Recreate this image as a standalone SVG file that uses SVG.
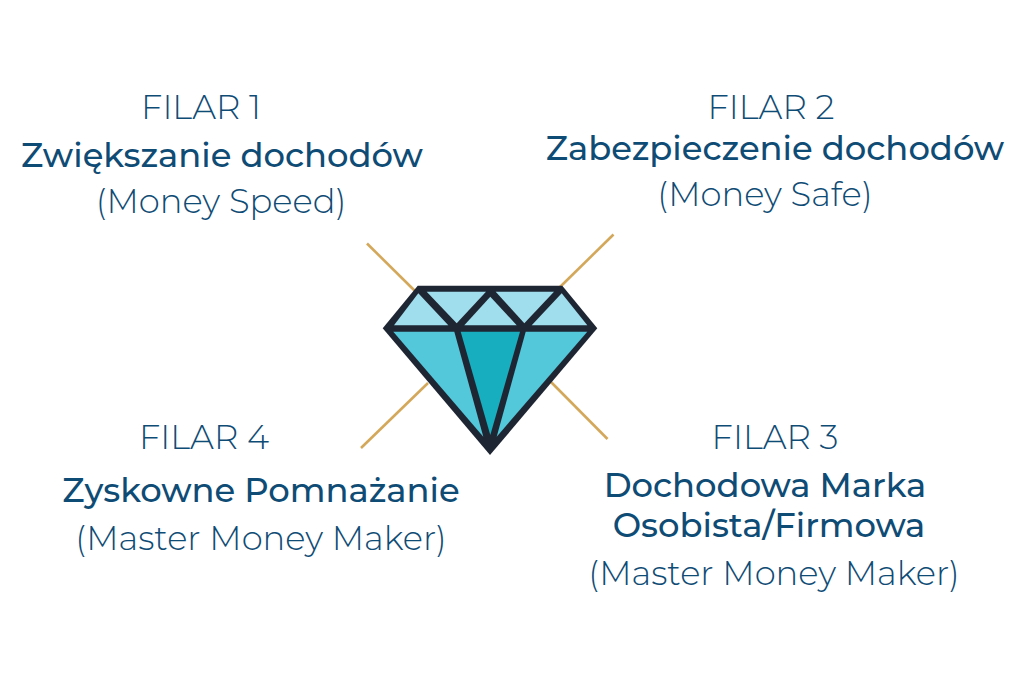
<svg xmlns="http://www.w3.org/2000/svg" width="1024" height="691" viewBox="0 0 1024 691">
<style>
text{font-family:"Montserrat","Inter","Noto Sans",sans-serif;text-anchor:middle;fill:#0f4c75;font-size:33.8px}
.l{font-weight:300}
.b{font-weight:500}
.c{stroke:#d4a85a;stroke-width:2.6;fill:none}
.t{fill:#a0deed}
.s{fill:#52c8da}
</style>
<rect width="1024" height="691" fill="#fff"/>
<g id="connectors">
<line class="c" x1="367" y1="243.500" x2="416" y2="292"/>
<line class="c" x1="613.500" y1="234.500" x2="560" y2="287"/>
<line class="c" x1="361" y1="448" x2="428" y2="383"/>
<line class="c" x1="607.500" y1="439" x2="550" y2="381"/>
</g>
<g id="diamond">
<polygon fill="#1f2633" points="417.700,285.700 562.300,285.700 597.300,328.300 490,455 382.700,328.300"/>
<polygon class="t" points="418.300,293.300 448.300,325.200 394,325.200"/>
<polygon class="t" points="426.700,291.700 486,291.700 456.700,323.300"/>
<polygon class="t" points="490.300,296.700 516.700,325.200 464.300,325.200"/>
<polygon class="t" points="495.700,291.700 554,291.700 524.300,323.300"/>
<polygon class="t" points="561.700,293.300 587.300,325.200 531.700,325.200"/>
<polygon class="s" points="393.300,331.700 454.300,331.700 483.300,436.700"/>
<polygon fill="#17afbf" points="460.700,331.700 520,331.700 490.300,435"/>
<polygon class="s" points="525.700,331.700 587.300,331.700 496.700,436.700"/>
</g>
<g id="filar1"><text class="l" x="201" y="119">FILAR 1</text><text class="b" x="222" y="167">Zwiększanie dochodów</text><text class="l" x="221" y="213">(Money Speed)</text></g>
<g id="filar2"><text class="l" x="771" y="119">FILAR 2</text><text class="b" x="775" y="160">Zabezpieczenie dochodów</text><text class="l" x="765" y="206">(Money Safe)</text></g>
<g id="filar3"><text class="l" x="775" y="449">FILAR 3</text><text class="b" x="765" y="497">Dochodowa Marka</text><text class="b" x="769" y="537">Osobista/Firmowa</text><text class="l" x="774" y="585">(Master Money Maker)</text></g>
<g id="filar4"><text class="l" x="204" y="449">FILAR 4</text><text class="b" x="261" y="502">Zyskowne Pomnażanie</text><text class="l" x="261" y="550">(Master Money Maker)</text></g>
</svg>
